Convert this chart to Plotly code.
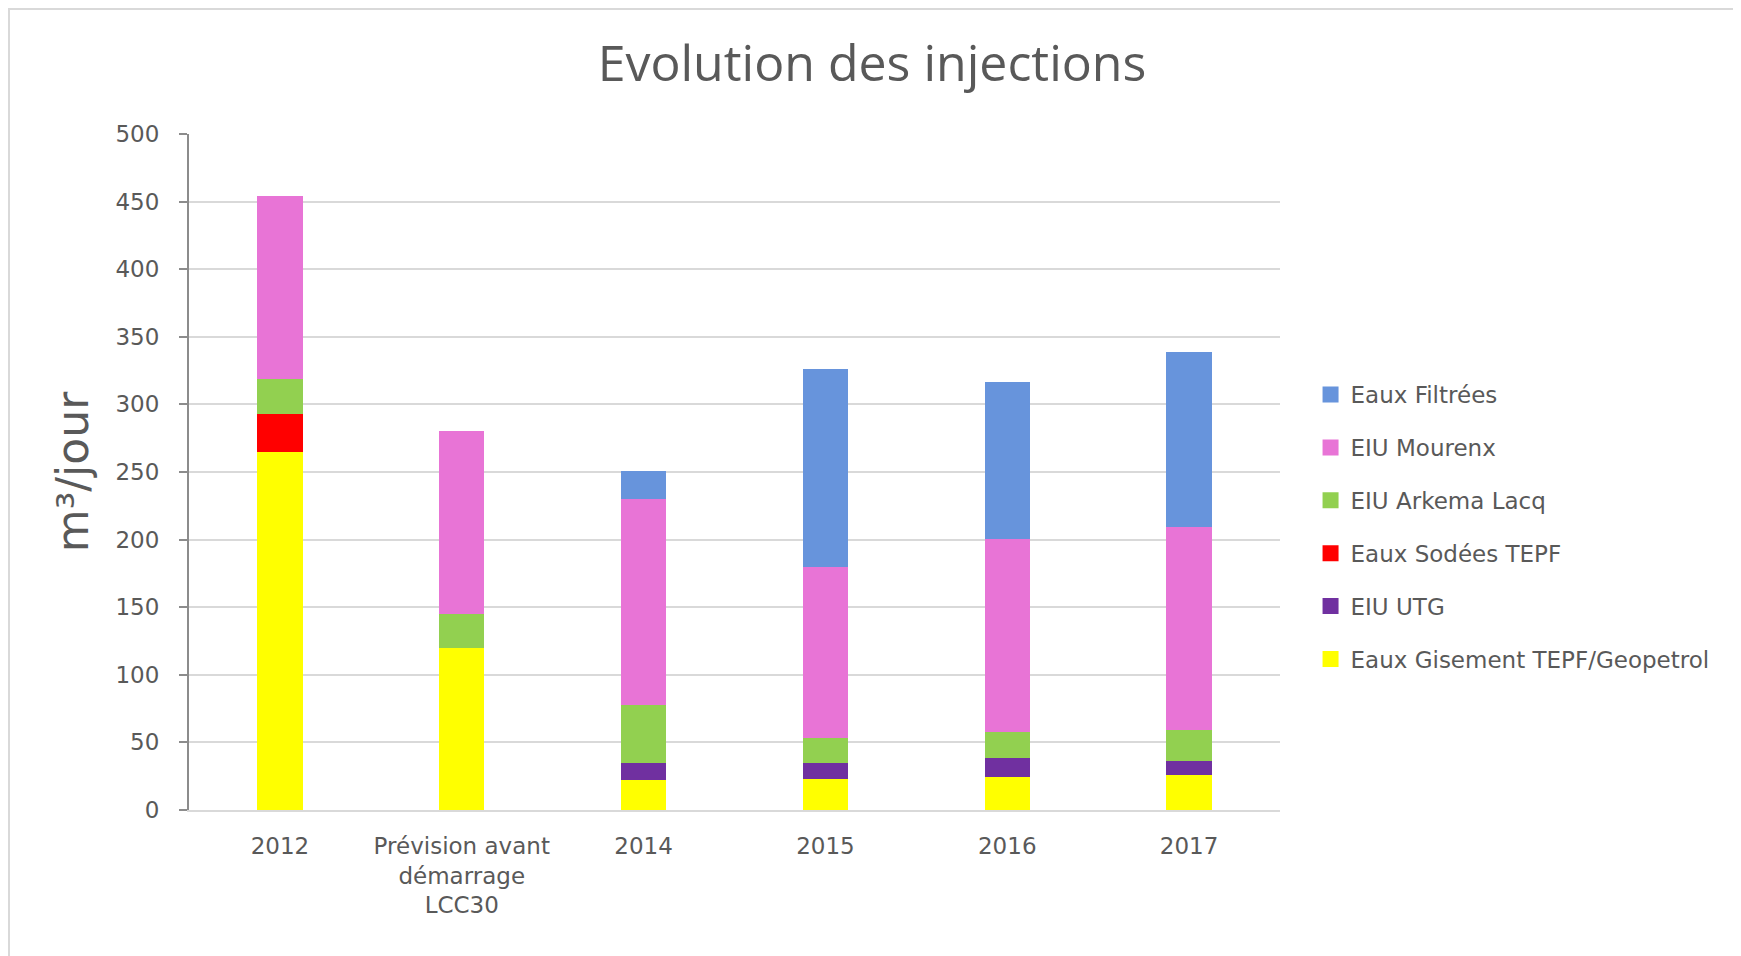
import plotly.graph_objects as go

# categories (x axis)
categories = ["2012", "Prévision avant<br>démarrage<br>LCC30", "2014", "2015", "2016", "2017"]

# series, bottom of the stack first (m3/jour)
gisement = [265, 120, 22, 23, 24.5, 26]
utg = [None, None, 13, 12, 14, 10]
sodees = [28, None, None, None, None, None]
arkema = [26, 25, 43, 18, 19, 23]
mourenx = [135, 135, 152, 127, 143, 150]
filtrees = [None, None, 21, 146, 116, 130]

series = [
    ("Eaux Gisement TEPF/Geopetrol", gisement, "#FFFF00"),
    ("EIU UTG", utg, "#7030A0"),
    ("Eaux Sodées TEPF", sodees, "#FF0000"),
    ("EIU Arkema Lacq", arkema, "#92D050"),
    ("EIU Mourenx", mourenx, "#E874D6"),
    ("Eaux Filtrées", filtrees, "#6794DC"),
]

text_col = "#595959"

fig = go.Figure()

# legend entries first (top of the stack listed first), with bigger square markers
for name, vals, col in reversed(series):
    fig.add_scatter(
        x=[None], y=[None],
        mode="markers",
        name=name,
        legendgroup=name,
        marker=dict(symbol="square", size=16, color=col),
        hoverinfo="skip",
    )

# stacked bars
for name, vals, col in series:
    fig.add_bar(
        x=categories,
        y=vals,
        name=name,
        legendgroup=name,
        showlegend=False,
        marker=dict(color=col, line=dict(width=0)),
    )

fig.update_layout(
    barmode="stack",
    bargap=0.75,
    width=1741,
    height=956,
    margin=dict(l=181, r=469, t=126, b=154),
    paper_bgcolor="white",
    plot_bgcolor="white",
    font=dict(family="DejaVu Sans", color=text_col, size=23),
    title=dict(
        text="Evolution des injections",
        x=864 / 1741, xref="container", xanchor="center",
        y=1 - 55 / 956, yref="container", yanchor="middle",
        font=dict(family="Open Sans", size=50, color=text_col),
    ),
    legend=dict(
        x=1.028, xanchor="left",
        y=0.4186, yanchor="middle",
        traceorder="grouped",
        tracegroupgap=20,
        itemwidth=30,
        font=dict(size=23, color=text_col),
    ),
    showlegend=True,
)

fig.update_xaxes(
    type="category",
    showgrid=False,
    showline=True, linecolor="#D9D9D9", linewidth=2,
    ticks="",
    ticklabelstandoff=14,
    tickfont=dict(size=23),
)

fig.update_yaxes(
    range=[0, 500],
    dtick=50,
    showgrid=True, gridcolor="#D9D9D9", gridwidth=1.5,
    zeroline=False,
    showline=True, linecolor="#8C8C8C", linewidth=2,
    ticks="outside", ticklen=8, tickcolor="#8C8C8C", tickwidth=2,
    ticklabelstandoff=15,
    tickfont=dict(size=23),
    title=dict(text="m³/jour", font=dict(size=44, color=text_col), standoff=13),
)

# light frame around the chart
fig.add_shape(
    type="rect", xref="paper", yref="paper",
    x0=-0.165, x1=1.418, y0=-0.25, y1=1.1849,
    line=dict(color="#D9D9D9", width=2),
    layer="below",
)

fig.write_html("out.html")
